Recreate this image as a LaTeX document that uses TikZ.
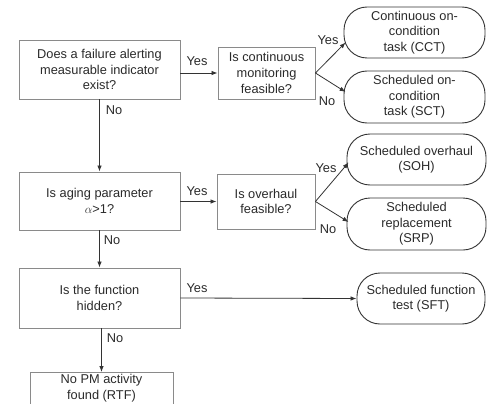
\documentclass[tikz,border=0pt]{standalone}
\usepackage{fontspec}
\setmainfont{Liberation Sans}
\usetikzlibrary{arrows.meta}
\definecolor{txt}{HTML}{2A2A2A}
\definecolor{boxline}{HTML}{8A8A8A}
\definecolor{conn}{HTML}{333333}
\begin{document}
\begin{tikzpicture}[x=1pt,y=-1pt,
  every node/.style={font=\fontsize{12.8}{15.6}\selectfont, text=txt},
  qbox/.style={draw=boxline, line width=0.9pt, align=center, inner sep=0pt},
  term/.style={draw=conn, line width=0.9pt, align=center, inner sep=0pt, rounded corners=23pt},
  arr/.style={draw=conn, line width=0.8pt, -{Latex[length=6pt,width=4.5pt]}},
  lbl/.style={inner sep=0pt}]
\useasboundingbox (0,0) rectangle (487,404);
% decision boxes
\node[qbox, minimum width=161pt, minimum height=59pt] (b1) at (99.5,69.5) {Does a failure alerting\\measurable indicator\\exist?};
\node[qbox, minimum width=97pt, minimum height=52pt] (b2) at (266.5,73) {Is continuous\\monitoring\\feasible?};
\node[qbox, minimum width=161pt, minimum height=58pt] (b3) at (99.5,201) {Is aging parameter\\$\alpha$>1?};
\node[qbox, minimum width=98pt, minimum height=55pt] (b4) at (266,201.5) {Is overhaul\\feasible?};
\node[qbox, minimum width=161pt, minimum height=60pt] (b5) at (99.5,298) {Is the function\\hidden?};
\node[qbox, minimum width=143pt, minimum height=46pt, anchor=north] (b6) at (101.5,372) {No PM activity\\found (RTF)\\[2pt]};
% terminals
\node[term, minimum width=141pt, minimum height=51pt] (cct) at (414.5,32.5) {Continuous on-\\condition\\task (CCT)};
\node[term, minimum width=141pt, minimum height=52pt] (sct) at (414.5,97) {Scheduled on-\\condition\\task (SCT)};
\node[term, minimum width=139pt, minimum height=51pt] (soh) at (416.5,159.5) {Scheduled overhaul\\(SOH)};
\node[term, minimum width=139pt, minimum height=52pt] (srp) at (416.5,224) {Scheduled\\replacement\\(SRP)};
\node[term, minimum width=128pt, minimum height=51pt] (sft) at (421,298.5) {Scheduled function\\test (SFT)};
% connectors
\draw[arr] (b1.east |- b2.west) -- (b2.west);
\draw[arr] (b1.south) -- (b3.north);
\draw[arr] (b2.east) -- ([xshift=2pt,yshift=-10pt]cct.west);
\draw[arr] (b2.east) -- ([xshift=2pt,yshift=5pt]sct.west);
\draw[arr] (b3.east |- b4.west) -- (b4.west);
\draw[arr] (b3.south) -- (b5.north);
\draw[arr] (b4.east) -- ([xshift=2pt,yshift=-3pt]soh.west);
\draw[arr] (b4.east) -- ([xshift=2pt,yshift=2pt]srp.west);
\draw[arr] (b5.east) -- (sft.west);
\draw[arr] (b5.south -| b6.north) -- (b6.north);
% labels
\node[lbl] (y1) at (197,61) {Yes};
\node[lbl] (n1) at (114,110) {No};
\node[lbl] (y2) at (328,40) {Yes};
\node[lbl] (n2) at (327,101) {No};
\node[lbl] (y3) at (197,191) {Yes};
\node[lbl] (n3) at (112,240) {No};
\node[lbl] (y4) at (326,168) {Yes};
\node[lbl] (n4) at (328,229) {No};
\node[lbl] (y5) at (197,288) {Yes};
\node[lbl] (n5) at (115,338) {No};
\end{tikzpicture}
\end{document}
